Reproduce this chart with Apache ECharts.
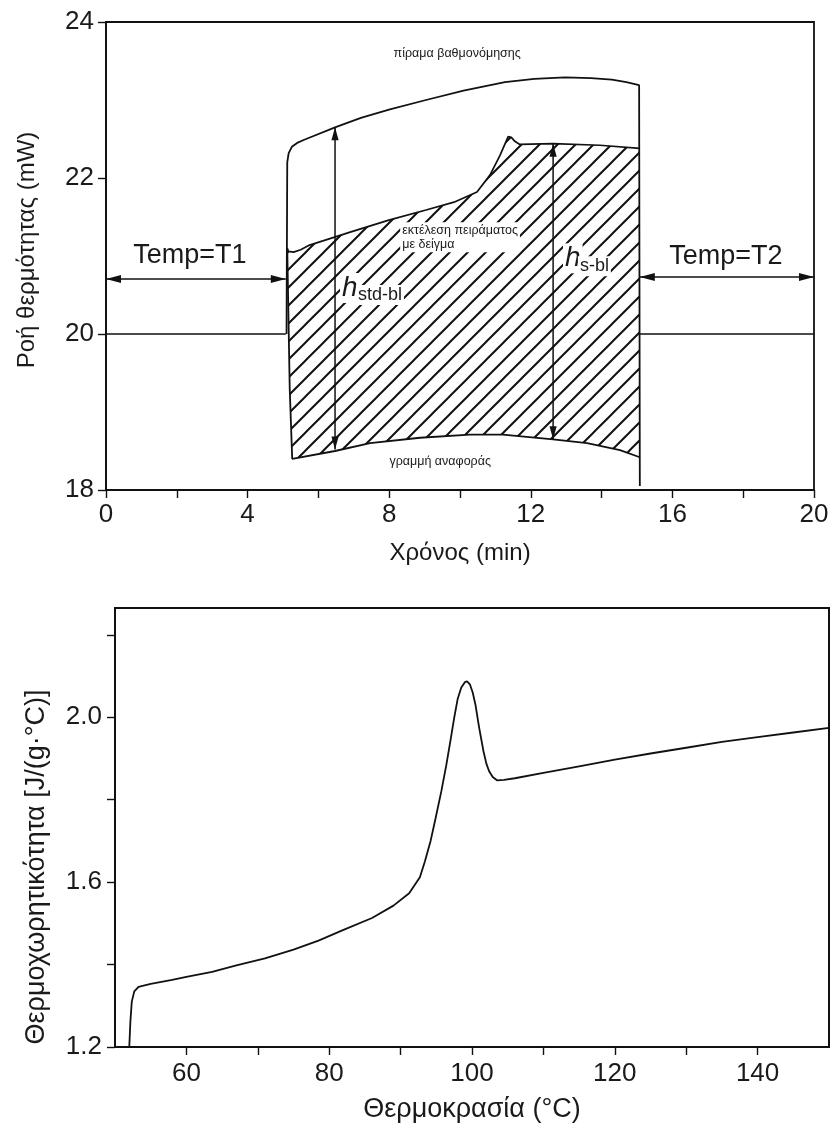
<!DOCTYPE html>
<html><head><meta charset="utf-8">
<script src="https://cdn.jsdelivr.net/npm/echarts@6/dist/echarts.min.js"></script>
<style>html,body{margin:0;padding:0;background:#fff}#c{width:833px;height:1133px}</style>
</head><body><div id="c"></div>
<script>
const FONT = '"Liberation Sans", Arial, sans-serif';
const INK = '#111';
const TXT = '#1a1a1a';

// ---- top chart: heat flow vs time ----
const TIME_TICKS = [0, 2, 4, 6, 8, 10, 12, 14, 16, 18, 20];
const TIME_LABELS = [0, 4, 8, 12, 16, 20];
const FLOW_TICKS = [18, 20, 22, 24];
const BASE_LEFT = [[0, 20], [5.08, 20]];
const BASE_RIGHT = [[15.08, 20], [20, 20]];
const CALIBRATION = [[5.1, 20], [5.12, 22.2], [5.16, 22.32], [5.25, 22.40], [5.4, 22.45], [5.6, 22.49],
  [6.47, 22.65], [7.2, 22.77], [8.02, 22.88], [9.04, 23.0], [10.1, 23.12], [11.27, 23.23], [12.1, 23.27],
  [12.97, 23.29], [13.7, 23.28], [14.29, 23.26], [14.7, 23.23], [15.06, 23.19], [15.08, 18.05]];
const SAMPLE = [[5.12, 21.1], [5.15, 21.06], [5.3, 21.05], [5.5, 21.08], [5.75, 21.14], [6.92, 21.31],
  [7.99, 21.46], [9.04, 21.59], [9.83, 21.69], [10.48, 21.82], [10.85, 22.04], [11.13, 22.29],
  [11.36, 22.53], [11.45, 22.52], [11.55, 22.47], [11.69, 22.43], [12.63, 22.44], [13.95, 22.42], [15.08, 22.38]];
const REFERENCE = [[5.12, 21.1], [5.19, 19.3], [5.26, 18.40], [6.47, 18.50], [7.46, 18.60], [8.87, 18.67],
  [10.28, 18.71], [11.21, 18.71], [12.63, 18.65], [13.59, 18.60], [14.52, 18.51], [15.08, 18.42]];
// double arrows: [x1, y1, x2, y2]
const ARROWS = [[6.47, 18.52, 6.47, 22.65], [12.63, 18.65, 12.63, 22.44], [0, 20.705, 5.08, 20.705], [15.08, 20.73, 20, 20.73]];
const NOTES = [
  { x: 9.92, y: 23.6, text: 'πίραμα βαθμονόμησης', size: 12.5, align: 'center' },
  { x: 8.31, y: 21.24, text: 'εκτέλεση πειράματος\nμε δείγμα', size: 12.5, align: 'left', bg: true, lh: 14 },
  { x: 9.44, y: 18.36, text: 'γραμμή αναφοράς', size: 12.5, align: 'center' },
  { x: 2.37, y: 21.0, text: 'Temp=T1', size: 27, align: 'center' },
  { x: 17.51, y: 20.99, text: 'Temp=T2', size: 27, align: 'center' },
  { x: 6.61, y: 20.59, text: 'h', size: 28, align: 'left', italic: true, bg: true },
  { x: 7.06, y: 20.50, text: 'std-bl', size: 18, align: 'left', bg: true },
  { x: 12.91, y: 20.97, text: 'h', size: 28, align: 'left', italic: true, bg: true },
  { x: 13.33, y: 20.87, text: 's-bl', size: 18, align: 'left', bg: true }
];

// ---- bottom chart: heat capacity vs temperature ----
const TEMP_TICKS = [60, 70, 80, 90, 100, 110, 120, 130, 140];
const TEMP_LABELS = [60, 80, 100, 120, 140];
const CP_TICKS = [1.2, 1.4, 1.6, 1.8, 2.0, 2.2];
const CP_LABELS = [1.2, 1.6, 2.0];
const CP = [[52.0, 1.2], [52.15, 1.26], [52.35, 1.31], [52.7, 1.335], [53.3, 1.346], [55, 1.353], [58, 1.363],
  [60, 1.37], [63.6, 1.382], [67, 1.398], [71, 1.415], [75, 1.436], [78.5, 1.458], [82, 1.484], [86, 1.513],
  [89, 1.543], [91.2, 1.573], [92.7, 1.612], [93.4, 1.65], [94.2, 1.7], [94.9, 1.755], [95.7, 1.82],
  [96.4, 1.884], [97.0, 1.945], [97.5, 1.998], [98.0, 2.045], [98.5, 2.072], [99.0, 2.085], [99.3, 2.087],
  [99.7, 2.08], [100.1, 2.06], [100.5, 2.029], [101.0, 1.975], [101.6, 1.918], [102.0, 1.888], [102.4, 1.869],
  [102.9, 1.855], [103.5, 1.847], [104.5, 1.848], [106, 1.852], [110, 1.865], [115, 1.881], [120, 1.897],
  [125, 1.912], [130, 1.926], [135, 1.94], [140, 1.952], [145, 1.963], [150, 1.974]];

function hatchPattern() {
  const s = 18, c = document.createElement('canvas');
  c.width = s; c.height = s;
  const g = c.getContext('2d');
  g.strokeStyle = INK; g.lineWidth = 2.0; g.lineCap = 'square';
  g.beginPath();
  g.moveTo(-2, s + 2); g.lineTo(s + 2, -2);
  g.moveTo(-2, 2); g.lineTo(2, -2);
  g.moveTo(s - 2, s + 2); g.lineTo(s + 2, s - 2);
  g.stroke();
  return c;
}
const PAT = hatchPattern();

const axisLineStyle = { show: true, lineStyle: { color: INK, width: 1.8 } };
const tickStyle = (vals) => ({ show: true, inside: false, length: 8, customValues: vals, lineStyle: { color: INK, width: 1.4 } });
const labelStyle = (vals, margin, size, fmt) => ({ customValues: vals, fontSize: size, fontFamily: FONT, color: TXT, margin: margin, formatter: fmt });
const lineSeries = (data, w) => ({ type: 'line', xAxisIndex: 0, yAxisIndex: 0, data: data, symbol: 'none', showSymbol: false,
  lineStyle: { color: INK, width: w }, z: 5, silent: true, animation: false });

const chart = echarts.init(document.getElementById('c'), null, { renderer: 'canvas' });
chart.setOption({
  animation: false,
  backgroundColor: '#fff',
  grid: [
    { left: 106, top: 22, width: 708, height: 468, show: true, borderColor: INK, borderWidth: 1.8, backgroundColor: 'transparent' },
    { left: 115, top: 608, width: 714, height: 439, show: true, borderColor: INK, borderWidth: 2, backgroundColor: 'transparent' }
  ],
  xAxis: [
    { gridIndex: 0, type: 'value', min: 0, max: 20, axisLine: axisLineStyle, axisTick: tickStyle(TIME_TICKS),
      axisLabel: labelStyle(TIME_LABELS, 12, 26), splitLine: { show: false },
      name: 'Χρόνος (min)', nameLocation: 'middle', nameGap: 51,
      nameTextStyle: { fontSize: 24, fontFamily: FONT, color: TXT } },
    { gridIndex: 1, type: 'value', min: 50, max: 150, axisLine: axisLineStyle, axisTick: tickStyle(TEMP_TICKS),
      axisLabel: labelStyle(TEMP_LABELS, 14, 26), splitLine: { show: false },
      name: 'Θερμοκρασία (°C)', nameLocation: 'middle', nameGap: 49,
      nameTextStyle: { fontSize: 27, fontFamily: FONT, color: TXT } }
  ],
  yAxis: [
    { gridIndex: 0, type: 'value', min: 18, max: 24, axisLine: axisLineStyle, axisTick: tickStyle(FLOW_TICKS),
      axisLabel: labelStyle(FLOW_TICKS, 12, 26), splitLine: { show: false } },
    { gridIndex: 1, type: 'value', min: 1.2, max: 2.265, axisLine: axisLineStyle, axisTick: tickStyle(CP_TICKS),
      axisLabel: labelStyle(CP_LABELS, 13, 26, v => Number(v).toFixed(1)), splitLine: { show: false } }
  ],
  graphic: [
    { type: 'text', x: 27, y: 250, rotation: Math.PI / 2,
      style: { text: 'Ροή θερμότητας (mW)', font: '24px ' + FONT, fill: TXT, align: 'center', verticalAlign: 'middle' } },
    { type: 'text', x: 37, y: 867, rotation: Math.PI / 2,
      style: { text: 'Θερμοχωρητικότητα [J/(g·°C)]', font: '27px ' + FONT, fill: TXT, align: 'center', verticalAlign: 'middle' } }
  ],
  series: [
    { type: 'custom', xAxisIndex: 0, yAxisIndex: 0, data: [[10, 20]], z: 2, silent: true,
      renderItem: (p, api) => ({
        type: 'polygon',
        shape: { points: SAMPLE.concat(REFERENCE.slice().reverse()).map(d => api.coord(d)) },
        style: { fill: { image: PAT, repeat: 'repeat' }, stroke: null }
      }) },
    lineSeries(BASE_LEFT, 1.7),
    lineSeries(BASE_RIGHT, 1.7),
    lineSeries(CALIBRATION, 1.8),
    lineSeries(SAMPLE, 1.7),
    lineSeries(REFERENCE, 1.8),
    { type: 'custom', xAxisIndex: 0, yAxisIndex: 0, data: NOTES.map((n, i) => [n.x, n.y, i]), z: 8, silent: true,
      renderItem: (p, api) => {
        const n = NOTES[api.value(2)];
        const pt = api.coord([api.value(0), api.value(1)]);
        return { type: 'text', x: pt[0], y: pt[1], z2: 10,
          style: { text: n.text, fontSize: n.size, fontFamily: FONT, fontStyle: n.italic ? 'italic' : 'normal',
            fill: TXT, align: n.align, verticalAlign: 'middle', lineHeight: n.lh || undefined,
            backgroundColor: n.bg ? '#fff' : null, padding: n.bg ? [1, 2] : 0 } };
      } },
    { type: 'custom', xAxisIndex: 0, yAxisIndex: 0, data: ARROWS, z: 9, silent: true,
      encode: { x: [0, 2], y: [1, 3] },
      renderItem: (p, api) => {
        const a = api.coord([api.value(0), api.value(1)]);
        const b = api.coord([api.value(2), api.value(3)]);
        const dx = b[0] - a[0], dy = b[1] - a[1], L = Math.hypot(dx, dy);
        const horiz = Math.abs(dx) > Math.abs(dy);
        const ux = dx / L, uy = dy / L, nx = -uy, ny = ux, hl = horiz ? 15 : 13, hw = horiz ? 4 : 3.6;
        const head = (t, s) => [[t[0], t[1]], [t[0] - s * ux * hl + nx * hw, t[1] - s * uy * hl + ny * hw],
          [t[0] - s * ux * hl - nx * hw, t[1] - s * uy * hl - ny * hw]];
        return { type: 'group', children: [
          { type: 'line', shape: { x1: a[0], y1: a[1], x2: b[0], y2: b[1] }, style: { stroke: INK, lineWidth: 1.5 } },
          { type: 'polygon', shape: { points: head(b, 1) }, style: { fill: INK } },
          { type: 'polygon', shape: { points: head(a, -1) }, style: { fill: INK } }
        ] };
      } },
    { type: 'line', xAxisIndex: 1, yAxisIndex: 1, data: CP, symbol: 'none', showSymbol: false,
      lineStyle: { color: INK, width: 1.8 }, silent: true }
  ]
});
</script></body></html>
